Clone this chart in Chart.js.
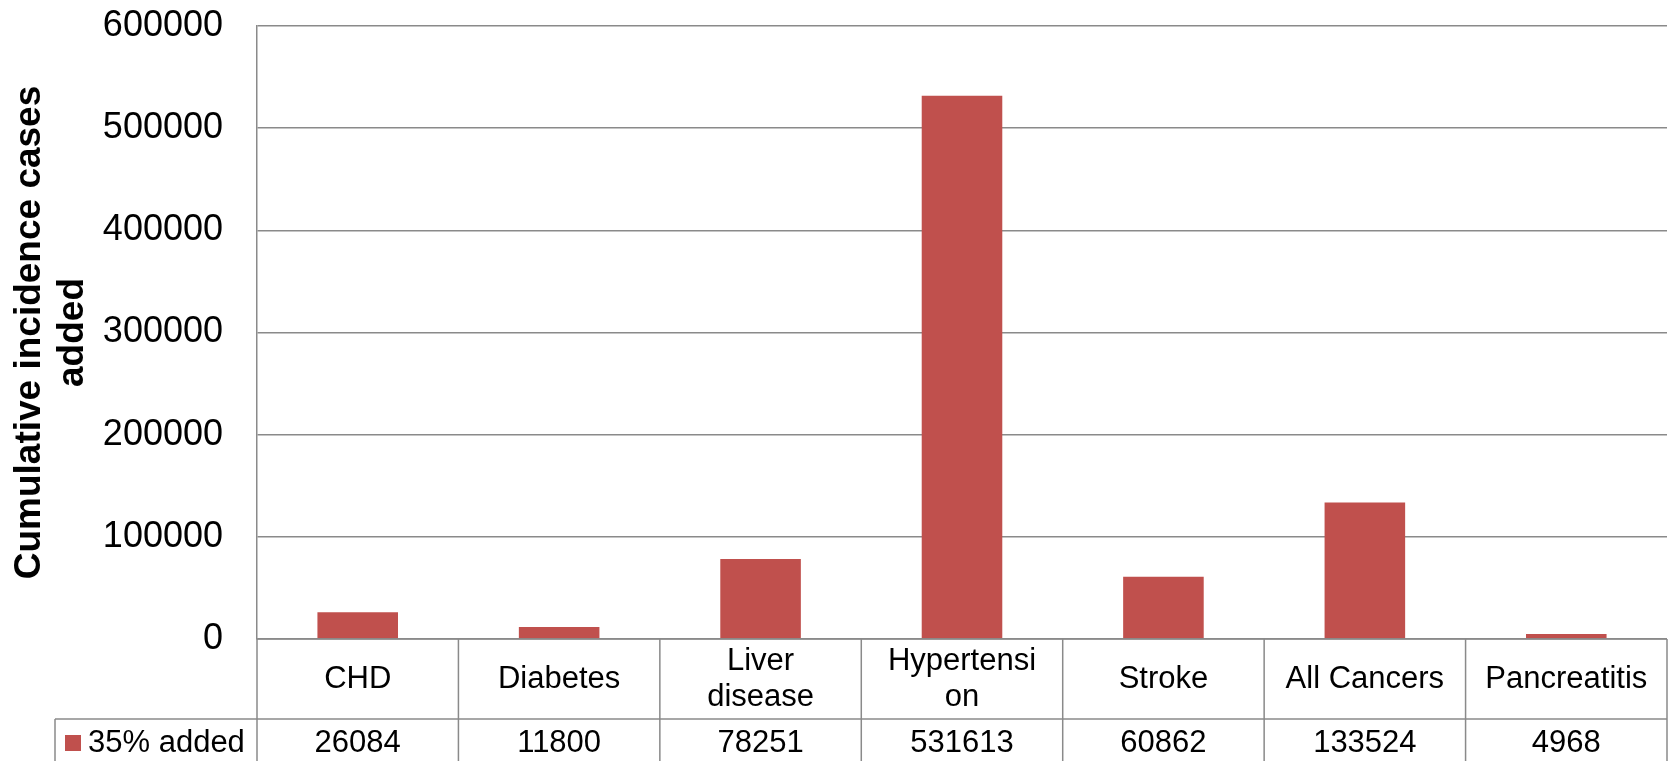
<!DOCTYPE html>
<html>
<head>
<meta charset="utf-8">
<script src="https://cdn.jsdelivr.net/npm/chart.js@4/dist/chart.umd.min.js"></script>
<style>
  html, body { margin: 0; padding: 0; background: #fff; }
  #wrap { width: 1668px; height: 761px; position: relative; }
</style>
</head>
<body>
<div id="wrap"><canvas id="chart"></canvas></div>
<script>
// data
const categories = ['CHD', 'Diabetes', ['Liver', 'disease'], ['Hypertensi', 'on'], 'Stroke', 'All Cancers', 'Pancreatitis'];
const seriesName = '35% added';
const values = [26084, 11800, 78251, 531613, 60862, 133524, 4968];
const yTicks = [0, 100000, 200000, 300000, 400000, 500000, 600000];
const yTitle = ['Cumulative incidence cases', 'added'];

const barColor = '#C0504D';
const lineColor = '#8a8a8a';
const fontFamily = '"Liberation Sans", Arial, sans-serif';

// Excel style data table under the plot
const dataTable = {
    id: 'dataTable',
    afterDraw(chart) {
        const ctx = chart.ctx;
        const x = chart.scales.x;
        const area = chart.chartArea;
        const colW = x.width / categories.length;
        const headBottom = area.bottom + 80;
        const rowBottom = headBottom + 47;
        const legendLeft = 55;

        ctx.save();
        ctx.strokeStyle = lineColor;
        ctx.lineWidth = 1.5;
        ctx.beginPath();
        // horizontal rules
        ctx.moveTo(x.left, area.bottom); ctx.lineTo(x.right, area.bottom);
        ctx.moveTo(legendLeft, headBottom); ctx.lineTo(x.right, headBottom);
        ctx.moveTo(legendLeft, rowBottom); ctx.lineTo(x.right, rowBottom);
        // vertical rules
        for (let i = 0; i <= categories.length; i++) {
            const xx = x.left + i * colW;
            ctx.moveTo(xx, area.bottom); ctx.lineTo(xx, rowBottom);
        }
        ctx.moveTo(legendLeft, headBottom); ctx.lineTo(legendLeft, rowBottom);
        ctx.stroke();

        ctx.fillStyle = '#000';
        ctx.font = '31px ' + fontFamily;
        ctx.textAlign = 'center';
        ctx.textBaseline = 'middle';
        const headMid = (area.bottom + headBottom) / 2;
        const rowMid = headBottom + 24;
        categories.forEach((c, i) => {
            const cx = x.getPixelForValue(i);
            const lines = Array.isArray(c) ? c : [c];
            const lh = 36;
            const y0 = headMid - (lines.length - 1) * lh / 2;
            lines.forEach((l, j) => ctx.fillText(l, cx, y0 + j * lh));
            ctx.fillText(String(values[i]), cx, rowMid);
        });

        // legend key
        ctx.fillStyle = barColor;
        ctx.fillRect(65, rowMid - 8, 16, 16);
        ctx.fillStyle = '#000';
        ctx.textAlign = 'left';
        ctx.fillText(seriesName, 88, rowMid);
        ctx.restore();
    }
};

new Chart(document.getElementById('chart'), {
    type: 'bar',
    data: {
        labels: categories,
        datasets: [{
            label: seriesName,
            data: values,
            backgroundColor: barColor,
            barPercentage: 0.4,
            categoryPercentage: 1.0
        }]
    },
    options: {
        responsive: true,
        maintainAspectRatio: false,
        animation: false,
        layout: {
            padding: { top: 26, right: 1, bottom: 122, left: 0 }
        },
        plugins: {
            legend: { display: false },
            tooltip: { enabled: false }
        },
        scales: {
            x: {
                display: false
            },
            y: {
                min: 0,
                max: 600000,
                afterBuildTicks: axis => {
                    axis.ticks = yTicks.map(v => ({ value: v }));
                },
                afterFit: axis => {
                    axis.width = 257;
                    axis.paddingTop = 0;
                    axis.paddingBottom = 0;
                },
                ticks: {
                    color: '#000',
                    padding: 34,
                    font: { family: fontFamily, size: 36 },
                    callback: v => String(v)
                },
                grid: {
                    color: lineColor,
                    lineWidth: 1.5,
                    drawTicks: false
                },
                border: {
                    color: lineColor,
                    width: 1.5
                },
                title: {
                    display: true,
                    text: yTitle,
                    color: '#000',
                    padding: { top: 8, bottom: 0 },
                    font: { family: fontFamily, size: 37, weight: 'bold', lineHeight: 1.16 }
                }
            }
        }
    },
    plugins: [dataTable]
});
</script>
</body>
</html>
